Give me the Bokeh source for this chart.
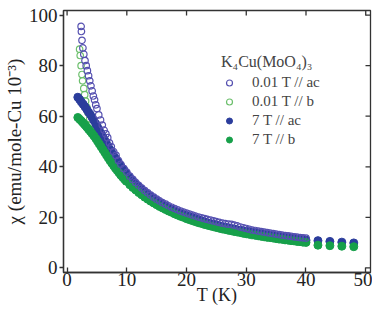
import math
from bokeh.plotting import figure
from bokeh.models import Legend, LegendItem, FixedTicker
from bokeh.embed import file_html
from bokeh.resources import INLINE

# ---------------- data ----------------
T_open_ac = [2.35, 2.4, 2.5, 2.65, 2.8, 3.0, 3.2, 3.4, 3.6, 3.8, 4.0, 4.2, 4.4, 4.6, 4.8,
             5.0, 5.3, 5.6, 5.9, 6.2, 6.5, 6.8, 7.1, 7.4, 7.8, 8.2, 8.6, 9.0, 9.5,
             10.0, 10.5, 11.0, 11.5, 12.0, 12.5, 13.0, 13.5, 14.0, 14.5, 15.0, 15.5,
             16.0, 16.5, 17.0, 17.5, 18.0, 18.5, 19.0, 19.5, 20.0, 20.5, 21.0, 21.5,
             22.0, 22.5, 23.0, 23.5, 24.0, 24.5, 25.0, 25.5, 26.0, 26.5, 27.0, 27.5,
             28.0, 28.5, 29.0, 29.5, 30.0, 30.5, 31.0, 31.5, 32.0, 32.5, 33.0, 33.5,
             34.0, 34.5, 35.0, 35.5, 36.0, 36.5, 37.0, 37.5, 38.0, 38.5, 39.0, 39.5, 40.0]
chi_open_ac = [95.5, 93.5, 90.0, 87.0, 84.5, 82.0, 80.0, 78.0, 76.0, 74.0, 72.0, 70.0, 68.0, 66.5, 64.5,
               63.0, 60.5, 58.5, 56.5, 54.5, 53.0, 51.5, 49.5, 48.0, 46.0, 44.5, 42.5, 41.0, 39.3,
               37.8, 36.3, 35.0, 33.8, 32.7, 31.6, 30.6, 29.7, 28.8, 28.0, 27.2, 26.5,
               25.8, 25.2, 24.6, 24.0, 23.5, 23.0, 22.5, 22.1, 21.7, 21.3, 20.9, 20.5,
               20.1, 19.8, 19.5, 19.2, 18.9, 18.6, 18.3, 18.0, 17.7, 17.5, 17.3, 17.2,
               16.9, 16.6, 16.2, 15.9, 15.6, 15.3, 15.0, 14.8, 14.6, 14.4, 14.2, 14.0,
               13.8, 13.6, 13.4, 13.2, 13.0, 12.8, 12.7, 12.5, 12.3, 12.2, 12.0, 11.9, 11.8]

T_open_b = [2.1, 2.2, 2.35, 2.5, 2.6, 2.8, 2.95, 3.1, 3.3, 3.5, 3.8, 4.1, 4.4, 4.7, 5.0,
            5.4, 5.8, 6.2, 6.6, 7.0, 7.5, 8.0, 8.5, 9.0, 9.5, 10.0, 11.0, 12.0, 13.0,
            14.0, 15.0, 16.0, 17.0, 18.0, 19.0, 20.0, 21.0, 22.0, 23.0, 24.0, 25.0,
            26.0, 27.0, 28.0, 29.0, 30.0, 31.0, 32.0, 33.0, 34.0, 35.0, 36.0, 37.0,
            38.0, 39.0, 40.0]
chi_open_b = [86.5, 84.0, 80.0, 76.5, 74.0, 71.0, 68.5, 66.0, 63.5, 61.5, 59.0, 56.8, 55.0, 53.2, 51.6,
              49.8, 48.2, 46.8, 45.4, 44.0, 42.3, 40.6, 39.0, 37.5, 36.0, 34.6, 32.1, 30.0, 28.2,
              26.6, 25.2, 24.0, 22.9, 21.9, 21.0, 20.2, 19.4, 18.7, 18.0, 17.4, 16.8,
              16.3, 15.8, 15.3, 14.8, 14.4, 14.0, 13.6, 13.2, 12.9, 12.6, 12.3, 12.0,
              11.7, 11.4, 11.2]

T_7T = [1.8, 2.1, 2.4, 2.7, 3.0, 3.3, 3.6, 3.9, 4.2, 4.5, 4.8, 5.1, 5.4, 5.7, 6.0,
        6.3, 6.6, 6.9, 7.2, 7.5, 7.8, 8.1, 8.4, 8.7, 9.0, 9.3, 9.6, 9.9,
        10.5, 11.0, 11.5, 12.0, 12.5, 13.0, 13.5, 14.0, 14.5, 15.0, 15.5, 16.0,
        16.5, 17.0, 17.5, 18.0, 18.5, 19.0, 19.5, 20.0, 20.5, 21.0, 21.5, 22.0,
        22.5, 23.0, 23.5, 24.0, 24.5, 25.0, 25.5, 26.0, 26.5, 27.0, 27.5, 28.0,
        28.5, 29.0, 29.5, 30.0, 30.5, 31.0, 31.5, 32.0, 32.5, 33.0, 33.5, 34.0,
        34.5, 35.0, 35.5, 36.0, 36.5, 37.0, 37.5, 38.0, 38.5, 39.0, 39.5, 40.0,
        42.0, 44.0, 46.0, 48.0]
chi_7T_ac = [67.5, 66.6, 65.6, 64.7, 63.7, 62.7, 61.6, 60.6, 59.5, 58.3, 57.0, 55.7, 54.4, 53.1, 51.8,
             50.5, 49.2, 47.9, 46.7, 45.5, 44.4, 43.3, 42.2, 41.2, 40.2, 39.3, 38.4, 37.5,
             35.6, 34.3, 33.1, 32.0, 30.9, 29.9, 29.0, 28.1, 27.3, 26.5, 25.8, 25.1,
             24.4, 23.8, 23.2, 22.6, 22.1, 21.6, 21.1, 20.6, 20.2, 19.8, 19.4, 19.0,
             18.6, 18.3, 17.9, 17.6, 17.3, 17.0, 16.7, 16.4, 16.1, 15.9, 15.6, 15.4,
             15.1, 14.9, 14.7, 14.5, 14.3, 14.1, 13.9, 13.7, 13.5, 13.3, 13.1, 12.9,
             12.7, 12.5, 12.4, 12.2, 12.1, 11.9, 11.7, 11.6, 11.4, 11.3, 11.1, 11.0,
             10.8, 10.5, 10.2, 9.9]
chi_7T_b = [59.5, 58.8, 58.1, 57.3, 56.5, 55.7, 54.8, 54.0, 53.1, 52.2, 51.2, 50.1, 49.0, 47.9, 46.8,
            45.7, 44.6, 43.5, 42.4, 41.4, 40.4, 39.4, 38.5, 37.6, 36.7, 35.9, 35.1, 34.3,
            32.9, 31.8, 30.8, 29.8, 28.9, 28.0, 27.2, 26.4, 25.7, 25.0, 24.3, 23.7,
            23.1, 22.5, 22.0, 21.4, 20.9, 20.4, 20.0, 19.5, 19.1, 18.7, 18.3, 17.9,
            17.6, 17.2, 16.9, 16.6, 16.3, 16.0, 15.7, 15.4, 15.2, 14.9, 14.7, 14.4,
            14.2, 14.0, 13.7, 13.5, 13.3, 13.1, 12.9, 12.7, 12.5, 12.3, 12.1, 12.0,
            11.8, 11.6, 11.4, 11.3, 11.1, 11.0, 10.8, 10.7, 10.5, 10.4, 10.2, 10.1,
            9.0, 8.8, 8.6, 8.4]

x_ticks = [0, 10, 20, 30, 40, 50]
y_ticks = [0, 20, 40, 60, 80, 100]

legend_title = "K\u2084Cu(MoO\u2084)\u2083"
labels = ["0.01 T // ac", "0.01 T // b", "7 T // ac", "7 T // b"]

assert len(T_open_ac) == len(chi_open_ac)
assert len(T_open_b) == len(chi_open_b)
assert len(T_7T) == len(chi_7T_ac) == len(chi_7T_b)

# ---------------- styles ----------------
FONT = "Liberation Serif"
AX = "#333333"
c_open_ac = "#5550b0"
c_open_b = "#6cbf6c"
c_fill_ac = "#2b3d9c"
c_fill_b = "#17a04a"

X0, X1 = -0.6, 50.8
Y0, Y1 = -1.8, 101.8

p = figure(width=372, height=308, x_range=(X0, X1), y_range=(Y0, Y1),
           output_backend="svg", toolbar_location=None,
           min_border_left=55, min_border_right=2, min_border_top=10, min_border_bottom=36)
p.grid.visible = False
p.outline_line_color = AX
p.outline_line_width = 1.3
p.background_fill_color = "white"
p.border_fill_color = "white"

r_ob = p.scatter(T_open_b, chi_open_b, size=6.5, fill_color=None, line_color=c_open_b, line_width=1.2)
r_fac = p.scatter(T_7T, chi_7T_ac, size=8, fill_color=c_fill_ac, line_color=c_fill_ac)
r_fb = p.scatter(T_7T, chi_7T_b, size=8, fill_color=c_fill_b, line_color=c_fill_b)
r_oac = p.scatter(T_open_ac, chi_open_ac, size=6.5, fill_color=None, line_color=c_open_ac, line_width=1.2)

# inward mirror ticks on the top and right frame edges (half of each dash is clipped by the frame)
p.scatter(x_ticks, [Y1] * len(x_ticks), marker="dash", angle=math.pi / 2, size=10,
          line_color=AX, line_width=1.3)
p.scatter([X1] * len(y_ticks), y_ticks, marker="dash", size=10,
          line_color=AX, line_width=1.3)

# axes
for ax in (p.xaxis[0], p.yaxis[0]):
    ax.axis_line_color = AX
    ax.axis_line_width = 1.3
    ax.major_tick_line_color = AX
    ax.major_tick_line_width = 1.3
    ax.minor_tick_line_color = None
    ax.major_label_text_font = FONT
    ax.major_label_text_font_size = "19px"
    ax.major_label_text_color = "#222222"
    ax.axis_label_text_font = FONT
    ax.axis_label_text_font_style = "normal"
    ax.axis_label_text_color = "#222222"

p.xaxis.ticker = FixedTicker(ticks=x_ticks)
p.yaxis.ticker = FixedTicker(ticks=y_ticks)
p.xaxis.major_tick_in = 5
p.xaxis.major_tick_out = 0
p.xaxis.major_label_standoff = 0
p.xaxis.axis_label = "T (K)"
p.xaxis.axis_label_text_font_size = "18px"
p.xaxis.axis_label_standoff = -4
p.yaxis.major_tick_in = 0
p.yaxis.major_tick_out = 4
p.yaxis.major_label_standoff = 2
p.yaxis.axis_label = "\u03c7 (emu/mole-Cu 10\u207b\u00b3)"
p.yaxis.axis_label_text_font_size = "19px"
p.yaxis.axis_label_standoff = 1

legend = Legend(items=[LegendItem(label=labels[0], renderers=[r_oac]),
                       LegendItem(label=labels[1], renderers=[r_ob]),
                       LegendItem(label=labels[2], renderers=[r_fac]),
                       LegendItem(label=labels[3], renderers=[r_fb])],
                location=(158, 124), title=legend_title,
                title_text_font=FONT, title_text_font_size="16px", title_text_font_style="normal",
                title_standoff=3, label_text_font=FONT, label_text_font_size="15px",
                label_height=15, glyph_height=15, glyph_width=16, spacing=2,
                label_standoff=15, padding=4, border_line_color=None,
                background_fill_alpha=0)
p.add_layout(legend)

open("out.html", "w").write(file_html(p, INLINE))
